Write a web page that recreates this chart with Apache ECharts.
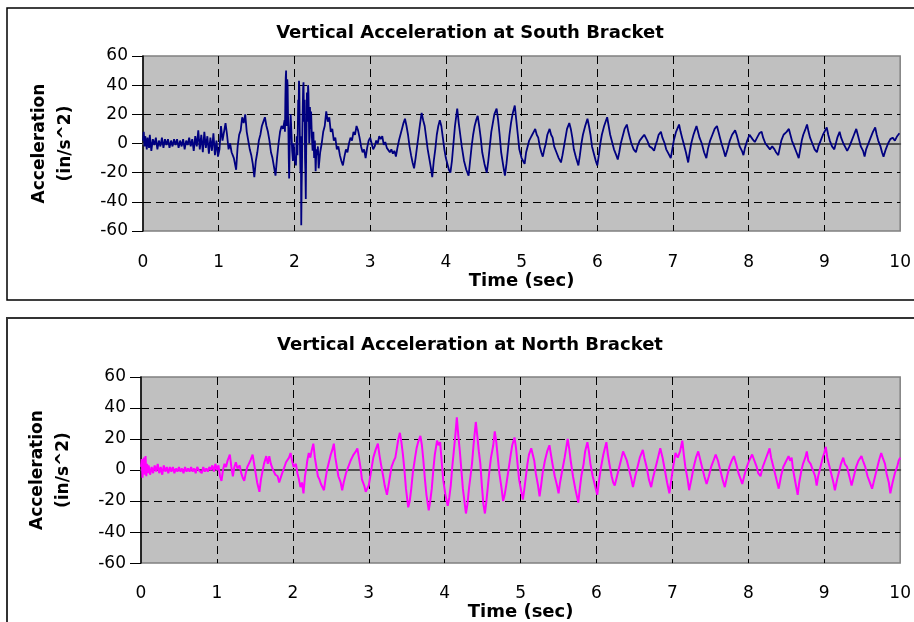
<!DOCTYPE html>
<html><head><meta charset="utf-8">
<script src="https://cdn.jsdelivr.net/npm/echarts@6/dist/echarts.min.js"></script>
<style>html,body{margin:0;padding:0;background:#fff}#c{width:914px;height:622px}</style>
</head><body><div id="c"></div>
<script>
// ---- tick labels / text ----
const timeTicks = [0, 1, 2, 3, 4, 5, 6, 7, 8, 9, 10];
const accelTicks = [-60, -40, -20, 0, 20, 40, 60];
const chartTitles = ['Vertical Acceleration at South Bracket', 'Vertical Acceleration at North Bracket'];
const xAxisTitle = 'Time (sec)';
const yAxisTitle = 'Acceleration\n(in/s^2)';

// ---- South bracket: [time (s), acceleration (in/s^2)] ----
const southData = [
[0.00,2],[0.01,8],[0.02,-2],[0.03,5],[0.05,-4],[0.06,4],[0.08,-3],[0.09,6],[0.11,-5],[0.13,3],
[0.15,-1],[0.17,4],[0.19,-4],[0.21,2],[0.23,-2],[0.25,4],[0.27,-3],[0.29,3],[0.31,-1],[0.33,3],
[0.35,-3],[0.37,2],[0.39,-2],[0.41,3],[0.43,-1],[0.45,3],[0.47,-3],[0.49,2],[0.51,-2],[0.53,3],
[0.55,-4],[0.57,2],[0.59,-1],[0.61,4],[0.63,-2],[0.65,3],[0.67,-5],[0.69,5],[0.71,-2],[0.73,9],
[0.75,-4],[0.77,6],[0.79,-6],[0.81,8],[0.83,-3],[0.85,5],[0.87,-7],[0.89,4],[0.91,-5],[0.93,7],
[0.95,-8],[0.97,2],[0.99,-9],[1.01,-4],[1.03,12],[1.05,2],[1.07,8],[1.09,14],[1.11,6],[1.13,-4],
[1.15,0],[1.17,-6],[1.20,-10],[1.23,-18],[1.25,-2],[1.27,6],[1.29,9],[1.31,18],[1.33,14],[1.35,20],
[1.37,8],[1.39,2],[1.41,-4],[1.43,-8],[1.45,-14],[1.47,-23],[1.49,-12],[1.51,-6],[1.53,2],[1.55,6],
[1.57,12],[1.59,15],[1.61,18],[1.63,12],[1.65,8],[1.67,2],[1.69,-6],[1.71,-10],[1.73,-16],[1.75,-22],
[1.77,-10],[1.79,0],[1.81,8],[1.83,12],[1.85,10],[1.87,16],[1.875,8],[1.88,30],[1.885,45],[1.89,50],
[1.895,12],[1.90,25],[1.905,44],[1.91,40],[1.915,20],[1.92,10],[1.925,-10],[1.93,-24],[1.94,5],[1.95,20],
[1.96,8],[1.97,-5],[1.98,-12],[1.99,0],[2.00,-10],[2.02,-15],[2.03,5],[2.04,-8],[2.05,30],[2.055,20],
[2.06,43],[2.065,38],[2.07,10],[2.075,-8],[2.08,-20],[2.085,5],[2.09,-56],[2.095,-30],[2.10,-15],[2.105,10],
[2.11,25],[2.115,38],[2.12,42],[2.125,20],[2.13,15],[2.135,30],[2.14,-10],[2.145,-20],[2.15,-38],[2.155,-5],
[2.16,10],[2.165,35],[2.17,30],[2.175,15],[2.18,40],[2.185,35],[2.19,20],[2.195,0],[2.20,5],[2.205,25],
[2.21,15],[2.215,10],[2.22,22],[2.23,5],[2.24,-5],[2.25,8],[2.26,-10],[2.27,2],[2.28,-19],[2.29,-4],
[2.30,-8],[2.31,-2],[2.32,-17],[2.34,-6],[2.36,0],[2.38,8],[2.40,12],[2.42,22],[2.44,15],[2.46,18],
[2.48,8],[2.50,10],[2.52,2],[2.54,4],[2.56,-4],[2.58,-2],[2.60,-8],[2.62,-12],[2.64,-15],[2.66,-9],
[2.68,-4],[2.70,-6],[2.72,0],[2.74,4],[2.76,2],[2.78,8],[2.80,6],[2.82,12],[2.84,9],[2.86,4],
[2.88,-2],[2.90,-6],[2.92,-4],[2.94,-10],[2.96,-3],[2.98,2],[3.00,4],[3.02,0],[3.04,-4],[3.06,-2],
[3.08,2],[3.10,0],[3.12,5],[3.14,3],[3.16,5],[3.18,-1],[3.20,1],[3.22,-3],[3.24,-2],[3.26,-6],
[3.28,-4],[3.30,-7],[3.32,-5],[3.34,-9],[3.36,-3],[3.38,2],[3.40,6],[3.42,10],[3.44,14],[3.46,17],
[3.48,12],[3.50,6],[3.52,-2],[3.54,-8],[3.56,-13],[3.58,-17],[3.60,-10],[3.62,-2],[3.64,6],[3.66,14],
[3.68,21],[3.70,16],[3.72,12],[3.74,4],[3.76,-4],[3.78,-10],[3.80,-16],[3.82,-23],[3.84,-12],[3.86,-4],
[3.88,6],[3.90,12],[3.92,16],[3.94,12],[3.96,4],[3.98,-4],[4.00,-10],[4.02,-14],[4.04,-18],[4.06,-20],
[4.08,-12],[4.10,0],[4.12,12],[4.14,20],[4.15,24],[4.17,14],[4.19,6],[4.21,-2],[4.24,-12],[4.27,-18],
[4.30,-22],[4.32,-12],[4.34,-2],[4.36,6],[4.38,12],[4.40,16],[4.42,19],[4.44,12],[4.46,4],[4.48,-6],
[4.51,-14],[4.54,-20],[4.56,-12],[4.58,-2],[4.60,8],[4.62,14],[4.64,20],[4.67,24],[4.69,16],[4.71,6],
[4.73,-6],[4.76,-16],[4.78,-22],[4.80,-14],[4.82,-4],[4.84,6],[4.86,14],[4.88,20],[4.91,26],[4.93,16],
[4.95,6],[4.97,-4],[5.00,-10],[5.02,-12],[5.04,-14],[5.06,-6],[5.08,-2],[5.10,2],[5.12,4],[5.14,6],
[5.16,8],[5.18,10],[5.20,6],[5.22,4],[5.24,-2],[5.26,-6],[5.28,-9],[5.30,-4],[5.32,0],[5.34,6],
[5.37,10],[5.39,6],[5.41,4],[5.43,-2],[5.46,-6],[5.49,-10],[5.52,-13],[5.54,-8],[5.56,-2],[5.58,4],
[5.60,10],[5.63,14],[5.65,10],[5.67,4],[5.69,-4],[5.72,-10],[5.75,-15],[5.77,-8],[5.79,0],[5.81,6],
[5.84,12],[5.87,17],[5.89,12],[5.91,6],[5.93,-2],[5.96,-8],[5.98,-12],[6.00,-15],[6.02,-8],[6.04,0],
[6.06,6],[6.09,12],[6.13,18],[6.15,12],[6.17,6],[6.19,2],[6.22,-4],[6.25,-8],[6.27,-11],[6.29,-6],
[6.31,0],[6.34,6],[6.36,10],[6.39,13],[6.41,8],[6.43,4],[6.45,0],[6.48,-4],[6.51,-6],[6.53,-2],
[6.56,2],[6.59,4],[6.62,6],[6.64,4],[6.66,2],[6.69,-2],[6.72,-3],[6.75,-5],[6.77,-1],[6.79,2],
[6.81,6],[6.84,8],[6.86,4],[6.89,0],[6.91,-4],[6.94,-7],[6.97,-10],[6.99,-4],[7.01,2],[7.04,8],
[7.08,13],[7.10,8],[7.12,4],[7.14,0],[7.17,-6],[7.20,-13],[7.22,-6],[7.24,0],[7.27,6],[7.29,9],
[7.31,12],[7.33,8],[7.35,4],[7.38,0],[7.41,-6],[7.44,-10],[7.46,-4],[7.49,2],[7.52,6],[7.55,10],
[7.58,12],[7.60,8],[7.62,4],[7.64,0],[7.67,-5],[7.69,-9],[7.72,-4],[7.75,2],[7.78,6],[7.82,9],
[7.84,6],[7.86,2],[7.88,-2],[7.91,-5],[7.93,-8],[7.95,-3],[7.98,2],[8.01,6],[8.03,7],[8.05,3],
[8.08,1],[8.11,4],[8.14,7],[8.17,8],[8.19,4],[8.22,0],[8.25,-2],[8.28,-4],[8.31,-2],[8.34,-4],
[8.36,-6],[8.39,-8],[8.41,-3],[8.43,2],[8.46,6],[8.50,8],[8.53,10],[8.55,6],[8.57,2],[8.60,-2],
[8.63,-6],[8.66,-10],[8.68,-4],[8.70,2],[8.72,6],[8.75,10],[8.77,13],[8.79,8],[8.81,4],[8.84,0],
[8.87,-4],[8.90,-6],[8.92,-2],[8.95,2],[8.98,6],[9.01,9],[9.03,11],[9.05,6],[9.07,2],[9.10,-2],
[9.13,-4],[9.15,0],[9.17,4],[9.20,8],[9.22,4],[9.25,0],[9.28,-3],[9.30,-5],[9.33,-2],[9.36,2],
[9.39,6],[9.42,10],[9.44,6],[9.46,2],[9.48,-2],[9.51,-5],[9.53,-9],[9.55,-4],[9.58,0],[9.61,4],
[9.64,8],[9.67,11],[9.69,6],[9.71,2],[9.74,-2],[9.76,-6],[9.78,-9],[9.81,-4],[9.84,0],[9.87,3],
[9.90,4],[9.93,2],[9.96,5],[9.99,7]
];

// ---- North bracket: [time (s), acceleration (in/s^2)] ----
const northData = [
[0.00,2],[0.01,7],[0.02,-5],[0.03,6],[0.04,8],[0.05,-3],[0.06,9],[0.07,-4],[0.08,4],[0.09,-2],
[0.10,3],[0.12,-3],[0.14,2],[0.16,-2],[0.18,3],[0.20,-1],[0.22,4],[0.24,-2],[0.26,2],[0.28,-3],
[0.30,3],[0.32,-1],[0.34,2],[0.36,-2],[0.38,2],[0.40,-1],[0.42,2],[0.44,-2],[0.46,1],[0.48,-1],
[0.50,2],[0.52,-1],[0.54,1],[0.56,-2],[0.58,2],[0.60,-1],[0.62,1],[0.64,-1],[0.66,2],[0.68,-1],
[0.70,1],[0.72,-2],[0.74,2],[0.76,0],[0.78,1],[0.80,-2],[0.82,2],[0.84,-1],[0.86,1],[0.88,-1],
[0.90,2],[0.92,0],[0.94,3],[0.96,-1],[0.98,4],[1.00,0],[1.02,3],[1.04,-4],[1.06,-7],[1.08,0],
[1.10,4],[1.12,2],[1.14,6],[1.17,10],[1.19,2],[1.21,-4],[1.23,2],[1.25,5],[1.27,1],[1.30,3],
[1.32,-2],[1.34,-5],[1.36,-7],[1.38,-2],[1.40,2],[1.42,4],[1.44,6],[1.47,10],[1.49,4],[1.51,-2],
[1.53,-8],[1.56,-14],[1.58,-6],[1.60,-1],[1.62,4],[1.65,9],[1.67,4],[1.69,9],[1.71,4],[1.74,0],
[1.77,-3],[1.80,-4],[1.82,-8],[1.84,-8],[1.86,-2],[1.89,2],[1.91,5],[1.93,5],[1.95,8],[1.97,11],
[1.99,6],[2.01,2],[2.04,4],[2.06,-2],[2.08,-6],[2.10,-11],[2.12,-8],[2.14,-15],[2.16,-4],[2.18,2],
[2.19,6],[2.21,11],[2.23,8],[2.25,13],[2.27,17],[2.29,8],[2.31,2],[2.33,-4],[2.35,-6],[2.37,-9],
[2.39,-8],[2.41,-13],[2.43,-6],[2.45,0],[2.47,4],[2.50,10],[2.52,13],[2.54,17],[2.56,8],[2.58,2],
[2.60,-4],[2.63,-8],[2.65,-13],[2.67,-8],[2.70,-2],[2.73,2],[2.76,6],[2.78,8],[2.80,10],[2.83,12],
[2.85,14],[2.87,8],[2.89,2],[2.91,-6],[2.94,-10],[2.96,-14],[2.98,-12],[3.00,-10],[3.02,-4],[3.04,2],
[3.06,8],[3.09,13],[3.12,17],[3.14,10],[3.16,4],[3.19,-4],[3.21,-10],[3.24,-16],[3.26,-10],[3.28,-4],
[3.30,2],[3.33,6],[3.35,8],[3.37,14],[3.39,20],[3.41,24],[3.43,18],[3.45,10],[3.47,0],[3.49,-12],
[3.52,-24],[3.54,-20],[3.56,-12],[3.58,-2],[3.61,8],[3.63,14],[3.65,18],[3.68,22],[3.70,16],[3.72,6],
[3.74,-6],[3.76,-16],[3.79,-26],[3.81,-20],[3.83,-12],[3.85,0],[3.87,10],[3.90,19],[3.92,16],[3.94,18],
[3.96,6],[3.98,-6],[4.01,-16],[4.04,-23],[4.06,-18],[4.08,-10],[4.10,2],[4.12,12],[4.14,22],[4.16,34],
[4.18,22],[4.20,12],[4.22,0],[4.24,-12],[4.26,-20],[4.28,-28],[4.30,-22],[4.32,-12],[4.34,-4],[4.36,4],
[4.38,16],[4.41,31],[4.43,22],[4.45,12],[4.47,4],[4.49,-10],[4.51,-22],[4.53,-28],[4.55,-20],[4.57,-10],
[4.59,0],[4.61,8],[4.64,16],[4.66,25],[4.68,18],[4.70,8],[4.72,-2],[4.75,-12],[4.77,-20],[4.79,-16],
[4.81,-10],[4.84,0],[4.87,10],[4.89,16],[4.92,21],[4.94,14],[4.96,4],[4.98,-6],[5.01,-14],[5.03,-19],
[5.05,-12],[5.07,-4],[5.09,4],[5.11,10],[5.14,14],[5.16,10],[5.18,6],[5.20,-2],[5.23,-10],[5.25,-17],
[5.27,-10],[5.29,-2],[5.32,6],[5.35,12],[5.38,16],[5.40,10],[5.42,4],[5.45,-4],[5.48,-10],[5.50,-15],
[5.52,-8],[5.55,0],[5.58,8],[5.60,14],[5.62,20],[5.64,14],[5.66,6],[5.69,-4],[5.72,-12],[5.76,-21],
[5.78,-12],[5.80,-4],[5.83,4],[5.85,12],[5.88,18],[5.90,12],[5.92,4],[5.95,-4],[5.98,-10],[6.01,-16],
[6.03,-8],[6.06,2],[6.09,10],[6.13,18],[6.15,10],[6.17,4],[6.20,-4],[6.22,-8],[6.24,-10],[6.27,-4],
[6.30,2],[6.33,8],[6.35,12],[6.37,13],[6.40,6],[6.43,0],[6.46,-6],[6.48,-11],[6.51,-4],[6.54,2],
[6.57,8],[6.61,13],[6.63,8],[6.66,2],[6.69,-6],[6.72,-11],[6.74,-6],[6.77,0],[6.80,6],[6.82,10],
[6.84,14],[6.87,8],[6.90,0],[6.93,-8],[6.96,-15],[6.98,-8],[7.01,2],[7.03,8],[7.04,11],[7.07,8],
[7.10,12],[7.13,19],[7.15,10],[7.17,2],[7.20,-6],[7.22,-13],[7.25,-6],[7.28,2],[7.31,8],[7.34,12],
[7.36,8],[7.39,2],[7.42,-4],[7.45,-9],[7.48,-4],[7.51,2],[7.54,6],[7.57,10],[7.60,6],[7.63,0],
[7.66,-6],[7.69,-11],[7.72,-4],[7.75,2],[7.78,6],[7.81,9],[7.84,4],[7.87,-2],[7.90,-6],[7.92,-9],
[7.95,-3],[7.98,2],[8.01,6],[8.05,10],[8.08,6],[8.11,2],[8.13,-2],[8.16,-4],[8.19,2],[8.22,6],
[8.25,10],[8.28,14],[8.30,8],[8.33,2],[8.36,-4],[8.38,-8],[8.40,-12],[8.43,-4],[8.46,2],[8.50,6],
[8.53,9],[8.55,6],[8.57,8],[8.59,0],[8.62,-8],[8.65,-16],[8.67,-8],[8.70,0],[8.72,4],[8.75,8],
[8.77,12],[8.79,6],[8.82,4],[8.85,0],[8.88,-4],[8.90,-10],[8.92,-4],[8.95,2],[8.98,8],[9.00,11],
[9.02,15],[9.04,8],[9.07,2],[9.10,-4],[9.12,-8],[9.14,-13],[9.17,-6],[9.20,0],[9.22,4],[9.25,8],
[9.27,4],[9.30,2],[9.33,-4],[9.36,-10],[9.39,-4],[9.42,2],[9.45,6],[9.49,9],[9.51,6],[9.54,2],
[9.57,-4],[9.60,-8],[9.63,-12],[9.66,-6],[9.69,0],[9.72,6],[9.75,11],[9.77,8],[9.80,4],[9.82,-2],
[9.85,-8],[9.87,-15],[9.90,-8],[9.93,-2],[9.96,2],[9.98,6],[10.00,8]
];

const seriesColors = ['#000080', '#FF00FF'];
const seriesWidths = [1.8, 2];

// ---- build option ----
const FONT = 'DejaVu Sans';
const dashed = { color: '#000', type: [8, 5], width: 1 };
const panels = [
  { grid: { left: 143, top: 56, width: 761, height: 175 }, titleTop: 24, labelMargin: 23, nameGap: 41 },
  { grid: { left: 141, top: 377, width: 763, height: 189 }, titleTop: 336, labelMargin: 22, nameGap: 32 }
];
const xMin = timeTicks[0], xMax = timeTicks[timeTicks.length - 1], xStep = timeTicks[1] - timeTicks[0];
const yMin = accelTicks[0], yMax = accelTicks[accelTicks.length - 1], yStep = accelTicks[1] - accelTicks[0];

// labelled time axes (bottom of each plot)
const labelAxes = panels.map((p, i) => ({
  type: 'value', gridIndex: i, position: 'bottom', z: 0,
  min: xMin, max: xMax, interval: xStep,
  axisLine: { show: false, onZero: false }, axisTick: { show: false },
  axisLabel: { margin: p.labelMargin, color: '#000', fontFamily: FONT, fontSize: 17 },
  splitLine: { show: true, showMinLine: false, showMaxLine: false, lineStyle: dashed },
  name: xAxisTitle, nameLocation: 'middle', nameGap: p.nameGap,
  nameTextStyle: { fontFamily: FONT, fontWeight: 'bold', fontSize: 18, color: '#000' }
}));
// zero-crossing axis lines (Excel-style category axis crossing at 0)
const zeroAxes = panels.map((p, i) => ({
  type: 'value', gridIndex: i, position: 'top', z: 3,
  min: xMin, max: xMax, interval: xStep,
  axisLine: { show: true, onZero: true, lineStyle: { color: '#505050', width: 2 } },
  axisTick: { show: false }, axisLabel: { show: false }, splitLine: { show: false }
}));

const option = {
  animation: false,
  backgroundColor: '#fff',
  title: panels.map((p, i) => ({
    text: chartTitles[i], left: 470, top: p.titleTop, textAlign: 'center', padding: 0,
    textStyle: { fontFamily: FONT, fontWeight: 'bold', fontSize: 18, color: '#000' }
  })),
  grid: panels.map(p => Object.assign({
    show: true, backgroundColor: '#C0C0C0', borderColor: '#808080', borderWidth: 1.5
  }, p.grid)),
  xAxis: labelAxes.concat(zeroAxes),
  yAxis: panels.map((p, i) => ({
    type: 'value', gridIndex: i, z: 0,
    min: yMin, max: yMax, interval: yStep,
    axisLine: { show: true, onZero: false, lineStyle: { color: '#000', width: 1.5 } },
    axisTick: { show: true, length: 11, lineStyle: { color: '#000', width: 1 } },
    axisLabel: { margin: 15, color: '#000', fontFamily: FONT, fontSize: 17 },
    splitLine: { show: true, showMinLine: false, showMaxLine: false, lineStyle: dashed },
    name: yAxisTitle, nameLocation: 'middle', nameGap: 64, nameRotate: 90,
    nameTextStyle: { fontFamily: FONT, fontWeight: 'bold', fontSize: 17, lineHeight: 26, color: '#000' }
  })),
  series: [southData, northData].map((d, i) => ({
    type: 'line', xAxisIndex: i, yAxisIndex: i, data: d, z: 6,
    showSymbol: false, symbol: 'none',
    lineStyle: { color: seriesColors[i], width: seriesWidths[i] }, itemStyle: { color: seriesColors[i] }
  })),
  graphic: [
    { type: 'rect', silent: true, z: 100, shape: { x: 7, y: 8, width: 940, height: 292 },
      style: { fill: 'none', stroke: '#000', lineWidth: 1.5 } },
    { type: 'rect', silent: true, z: 100, shape: { x: 7, y: 318, width: 940, height: 340 },
      style: { fill: 'none', stroke: '#333', lineWidth: 2 } }
  ]
};

const chart = echarts.init(document.getElementById('c'), null, { renderer: 'canvas' });
chart.setOption(option);
</script>
</body></html>
